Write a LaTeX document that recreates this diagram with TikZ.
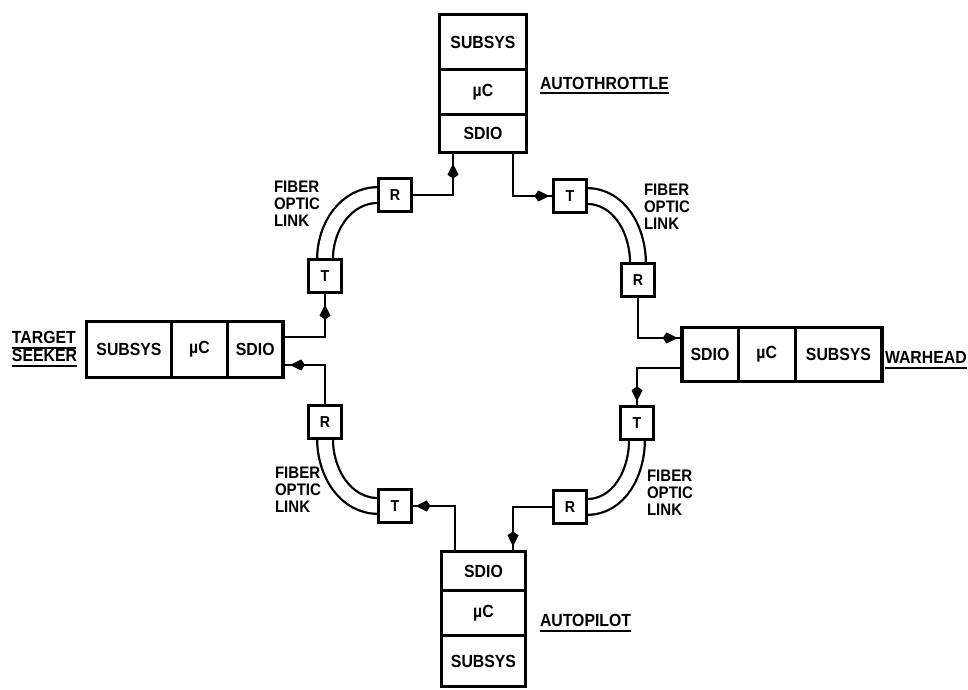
\documentclass[tikz,border=0pt]{standalone}
\usepackage{fontspec}
\setmainfont{Liberation Sans}[FakeStretch=0.9]
\usetikzlibrary{positioning,calc,arrows.meta,decorations.markings,backgrounds}

\begin{document}
\begin{tikzpicture}[x=0.2mm,y=0.2mm,
  font=\bfseries,
  cell/.style={draw,line width=0.7mm,fill=white,inner sep=0pt,outer sep=0pt,
               align=center,font=\fontsize{10}{12}\selectfont\bfseries},
  optic/.style={draw,line width=0.75mm,fill=white,inner sep=0pt,outer sep=0pt,
                minimum size=6.6mm,font=\fontsize{9}{10}\selectfont\bfseries},
  tag/.style={inner xsep=0pt,inner ysep=0.8mm,outer sep=0pt,
              font=\fontsize{10}{12}\selectfont\bfseries},
  ul/.style={line width=0.4mm},
  linknote/.style={align=left,inner sep=0pt,font=\fontsize{9.5}{9.7}\selectfont\bfseries},
  fiber/.style={draw=black,line width=0.45mm,double=white,double distance=2.7mm,looseness=1},
  sig/.style={line width=0.5mm,postaction={decorate},
              decoration={markings,mark=at position -#1 with {\arrow{Kite[length=3mm,width=2.2mm]}}}}
]
\useasboundingbox (0,0) rectangle (968,-690);

% ==========  AUTOTHROTTLE (top)  ==========
\node[cell,minimum width=17.4mm,minimum height=11mm] (atSubsys) at (483,-42) {SUBSYS};
\node[cell,minimum width=17.4mm,minimum height=9mm,below=0pt of atSubsys] (atMu) {µC};
\node[cell,minimum width=17.4mm,minimum height=7.6mm,below=0pt of atMu] (atSdio) {SDIO};
\node[tag,anchor=south west] (atName) at (540,-93.5) {AUTOTHROTTLE};
\draw[ul] (atName.south west) -- (atName.south east);

% ==========  TARGET SEEKER (left)  ==========
\node[cell,minimum width=17mm,minimum height=11.2mm] (tsSubsys) at (129,-349.5) {SUBSYS};
\node[cell,minimum width=11.2mm,minimum height=11.2mm,right=0pt of tsSubsys] (tsMu) {µC};
\node[cell,minimum width=11.1mm,minimum height=11.2mm,right=0pt of tsMu] (tsSdio) {SDIO};
\node[tag,anchor=south west] (tsName) at (12,-348) {TARGET};
\node[tag,anchor=south west] (tsName2) at (12,-366) {SEEKER};
\draw[ul] (tsName.south west) -- (tsName.south east);
\draw[ul] (tsName2.south west) -- (tsName2.south east);

% ==========  WARHEAD (right)  ==========
\node[cell,minimum width=11.3mm,minimum height=10.8mm] (whSdio) at (710,-354.5) {SDIO};
\node[cell,minimum width=11.4mm,minimum height=10.8mm,right=0pt of whSdio] (whMu) {µC};
\node[cell,minimum width=17.3mm,minimum height=10.8mm,right=0pt of whMu] (whSubsys) {SUBSYS};
\node[tag,anchor=south west] (whName) at (885,-368) {WARHEAD};
\draw[ul] (whName.south west) -- (whName.south east);

% ==========  AUTOPILOT (bottom)  ==========
\node[cell,minimum width=16.8mm,minimum height=7.8mm] (apSdio) at (483.5,-571) {SDIO};
\node[cell,minimum width=16.8mm,minimum height=9mm,below=0pt of apSdio] (apMu) {µC};
\node[cell,minimum width=16.8mm,minimum height=10.2mm,below=0pt of apMu] (apSubsys) {SUBSYS};
\node[tag,anchor=south west] (apName) at (540,-631) {AUTOPILOT};
\draw[ul] (apName.south west) -- (apName.south east);

% ==========  transmitters / receivers  ==========
\node[optic] (ulT) at (325,-276) {T};
\node[optic] (ulR) at (395,-195) {R};
\node[optic] (urT) at (570,-196) {T};
\node[optic] (urR) at (638,-280) {R};
\node[optic] (lrT) at (637,-423) {T};
\node[optic] (lrR) at (570,-507) {R};
\node[optic] (llR) at (325,-422) {R};
\node[optic] (llT) at (395,-506) {T};

\node[linknote] (ulNote) at (297,-204) {FIBER\\OPTIC\\LINK};
\node[linknote] (urNote) at (667,-207) {FIBER\\OPTIC\\LINK};
\node[linknote] (llNote) at (298,-490) {FIBER\\OPTIC\\LINK};
\node[linknote] (lrNote) at (670,-493) {FIBER\\OPTIC\\LINK};

% fiber optic links (behind the boxes)
\begin{scope}[on background layer]
  \draw[fiber] (ulT.north) to[out=90,in=180] (ulR.west);
  \draw[fiber] (urT.east) to[out=0,in=90] (urR.north);
  \draw[fiber] (lrT.south) to[out=-90,in=0] (lrR.east);
  \draw[fiber] (llR.south) to[out=-90,in=180] (llT.west);
\end{scope}

% ==========  SDIO wiring  ==========
\draw[sig=2.4mm] ([yshift=2.5mm]tsSdio.east) -| (ulT.south);
\draw[sig=2.2mm] (ulR.east) -| ([xshift=-6mm]atSdio.south);
\draw[sig=0.8mm] ([xshift=6mm]atSdio.south) |- (urT.west);
\draw[sig=0.8mm] (urR.south) |- ([yshift=3.3mm]whSdio.west);
\draw[sig=1mm] ([yshift=-2.7mm]whSdio.west) -| (lrT.north);
\draw[sig=1mm] (lrR.west) -| ([xshift=5.9mm]apSdio.north);
\draw[sig=0.8mm] ([xshift=-5.7mm]apSdio.north) |- (llT.east);
\draw[sig=1.4mm] (llR.north) |- ([yshift=-3.1mm]tsSdio.east);

\end{tikzpicture}
\end{document}
